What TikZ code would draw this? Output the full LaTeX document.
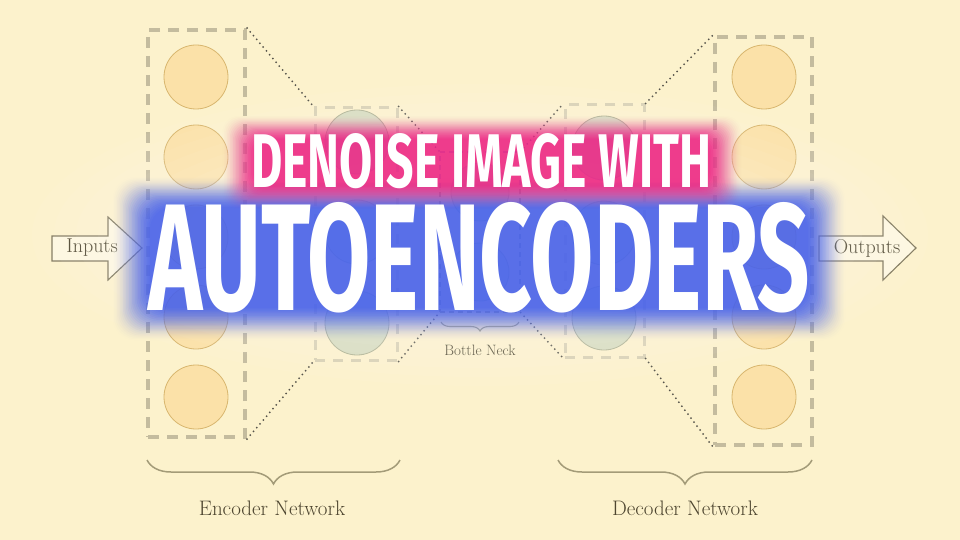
\documentclass[tikz,border=0pt]{standalone}
\usepackage{fontspec}
\usepackage{graphicx}
\usetikzlibrary{decorations.pathreplacing,calc}
\newfontfamily\titlefont{Fira Sans}

\definecolor{paper}{HTML}{FCF2CC}
\definecolor{boxGray}{HTML}{C4BC9E}
\definecolor{boxLight}{HTML}{D9D2B4}
\definecolor{neuronFill}{HTML}{FBE1A8}
\definecolor{neuronLine}{HTML}{D8B66E}
\definecolor{hiddenFill}{HTML}{D8DCC0}
\definecolor{hiddenLine}{HTML}{B0B394}
\definecolor{labelInk}{HTML}{4E4630}
\definecolor{braceInk}{HTML}{A39B78}
\definecolor{dotInk}{HTML}{55534A}
\definecolor{pinkGlow}{HTML}{EE2A8C}
\definecolor{blueGlow}{HTML}{4C68F2}

\newcommand{\topTitle}{\resizebox{460pt}{54pt}{\titlefont\bfseries DENOISE IMAGE WITH}}
\newcommand{\mainTitle}{\resizebox{662pt}{108pt}{\titlefont\bfseries AUTOENCODERS}}

\begin{document}
\begin{tikzpicture}
[x=1pt,y=-1pt,
  outerBox/.style={draw=boxGray,line width=4pt,dash pattern=on 11pt off 8pt,inner sep=0pt},
  innerBox/.style={draw=boxLight,line width=3pt,dash pattern=on 10pt off 8pt,inner sep=0pt},
  neckBox/.style={draw=boxGray!80!black,line width=1.2pt,dash pattern=on 5pt off 4pt,inner sep=0pt},
  outerNeuron/.style={shape=circle,minimum size=64pt,inner sep=0pt,fill=neuronFill,draw=neuronLine,line width=0.8pt},
  hiddenNeuron/.style={shape=circle,minimum size=64pt,inner sep=0pt,fill=hiddenFill,draw=hiddenLine,line width=0.8pt},
  linkDots/.style={draw=dotInk,line width=2pt,dash pattern=on 0pt off 5pt,line cap=round},
  netBrace/.style={draw=braceInk,line width=1.5pt,decorate,decoration={brace,mirror,amplitude=24pt}},
  netLabel/.style={text=labelInk,font=\fontsize{21}{24}\selectfont,inner sep=0pt},
  ioArrow/.style={fill=paper!60!white,draw=labelInk!70!paper,line width=1.1pt},
  titleText/.style={text=white,inner sep=0pt}]
\useasboundingbox (0,0) rectangle (960,540);
\fill[paper] (0,0) rectangle (960,540);

%% layers
\node[outerBox,minimum width=97pt,minimum height=407pt] (inBox) at (196.5,233.5) {};
\node[innerBox,minimum width=82pt,minimum height=252pt] (encBox) at (356,234) {};
\node[neckBox,minimum width=80pt,minimum height=160pt] (neckBox) at (480,232) {};
\node[innerBox,minimum width=79pt,minimum height=252pt] (decBox) at (604.5,231) {};
\node[outerBox,minimum width=97pt,minimum height=408pt] (outBox) at (763.5,241) {};

%% neurons
\foreach \nodename/\y in {a/77, b/157, c/237, d/317, e/397} {
  \node (in\nodename) at (196,\y) [outerNeuron] {};
  \node (out\nodename) at (764,\y) [outerNeuron] {};
}
\foreach \nodename/\y in {a/142, b/232, c/323} {
  \node (enc\nodename) at (357,\y) [hiddenNeuron] {};
}
\foreach \nodename/\y in {a/148, b/233, c/318} {
  \node (dec\nodename) at (604,\y) [hiddenNeuron] {};
}
\foreach \nodename/\y in {a/192, b/272} {
  \node (neck\nodename) at (480,\y) [hiddenNeuron,minimum size=58pt] {};
}

%% dotted links between layers
\foreach \startnode/\endnode in {inBox/encBox, encBox/neckBox, neckBox/decBox, decBox/outBox} {
  \draw[linkDots] (\startnode.north east) -- (\endnode.north west);
  \draw[linkDots] (\startnode.south east) -- (\endnode.south west);
}

%% input and output arrows
\draw[ioArrow] (52,236) -- (108,236) -- (108,217) -- (142,248) -- (108,280) -- (108,261) -- (52,261) -- cycle;
\draw[ioArrow] (819,236) -- (883,236) -- (883,216) -- (916,248) -- (883,280) -- (883,261) -- (819,261) -- cycle;
\node[netLabel,font=\fontsize{20}{22}\selectfont] (inputs) at (92,248) {Inputs};
\node[netLabel,font=\fontsize{20}{22}\selectfont] (outputs) at (867,248) {Outputs};

%% braces
\draw[netBrace] (147,460) -- (400,460);
\draw[netBrace] (558,460) -- (812,460);
\draw[netBrace,decoration={brace,mirror,amplitude=9pt},line width=1.1pt] (441,322) -- (519,322);
\node[netLabel] (encLabel) at (272,508) {Encoder Network};
\node[netLabel] (decLabel) at (685,508) {Decoder Network};
\node[netLabel,font=\fontsize{15}{17}\selectfont] (neckLabel) at (480,350) {Bottle Neck};

%% soft haze and glow behind the title
\foreach \k in {0,...,9} {
  \fill[white,opacity=0.045] (480,235) ellipse ({250+\k*22} and {70+\k*9});
}
\foreach \k [evaluate=\k as \op using {0.15*(1-\k/26)}] in {0,...,25} {
  \fill[blueGlow,opacity=\op,rounded corners=22pt] (150-\k*1.5,207-\k*1.2) rectangle (808+\k*1.5,308+\k*1.3);
}
\foreach \k [evaluate=\k as \op using {0.17*(1-\k/22)}] in {0,...,21} {
  \fill[pinkGlow,opacity=\op,rounded corners=16pt] (254-\k*1.5,139-\k*1.1) rectangle (710+\k*1.5,186+\k*1.1);
}

%% title text
\node[titleText,anchor=south west] (titleTop) at (251,189) {\topTitle};
\node[titleText,anchor=south west] (titleMain) at (148,313) {\mainTitle};
\end{tikzpicture}
\end{document}
